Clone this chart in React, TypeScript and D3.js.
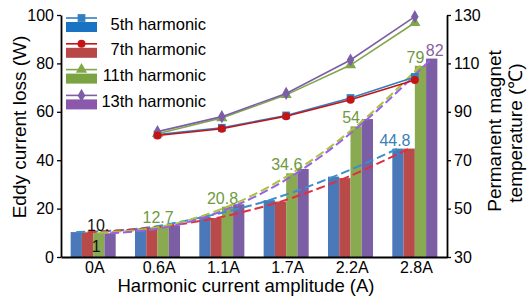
import React, { useEffect, useRef } from "react";
import * as d3 from "d3";

const categories = ["0A", "0.6A", "1.1A", "1.7A", "2.2A", "2.8A"];
const seriesNames = ["5th harmonic", "7th harmonic", "11th harmonic", "13th harmonic"];

// eddy current loss (W), bars
const loss5th = [10.3, 11.8, 16.7, 23.5, 33.2, 44.8];
const loss7th = [10.2, 12.1, 16.1, 22.9, 32.6, 44.8];
const loss11th = [10.0, 12.7, 20.8, 34.6, 54, 79];
const loss13th = [9.8, 13.0, 21.8, 36.4, 57, 82];

// magnet temperature (°C), lines (no value at 0A)
const temp5th = [null, 80.6, 83.4, 88.5, 95.7, 104.4];
const temp7th = [null, 80.2, 83.0, 88.2, 95.0, 103.1];
const temp11th = [null, 80.9, 87.4, 97.0, 109.3, 126.8];
const temp13th = [null, 81.8, 88.0, 97.6, 111.4, 129.3];

const lossTicks = [0, 20, 40, 60, 80, 100];
const tempTicks = [30, 50, 70, 90, 110, 130];

// data labels: [category, series index, text]
const barLabels: [string, number, string][] = [
  ["0.6A", 2, "12.7"],
  ["1.1A", 2, "20.8"],
  ["1.7A", 2, "34.6"],
  ["2.2A", 2, "54"],
  ["2.8A", 2, "79"],
  ["2.8A", 3, "82"],
  ["2.8A", 0, "44.8"],
];

const barColors = ["#4a78b8", "#b84a49", "#8aaa52", "#7b5ea4"];
const patchColors = ["#1a72c2", "#b84747", "#7aa442", "#8c58ab"];
const lineColors = ["#2f7fc1", "#c41416", "#80a84a", "#7c5ea6"];
const dashColors = ["#3a90c8", "#e0303e", "#a8c43a", "#9a62e0"];
const labelColors = ["#3b7fb5", "#b84a49", "#6e9a40", "#8a5ea2"];
const markers = [d3.symbolSquare, d3.symbolCircle, d3.symbolTriangle, d3.symbolDiamond];
const markerSizes = [60, 50, 55, 50];

const FONT = "'Liberation Sans', Arial, sans-serif";

export default function App() {
  const ref = useRef<SVGSVGElement>(null);

  useEffect(() => {
    const svg = d3.select(ref.current);
    svg.selectAll("*").remove();

    const left = 61, right = 447, top = 15, bottom = 257;
    const losses = [loss5th, loss7th, loss11th, loss13th];
    const temps = [temp5th, temp7th, temp11th, temp13th];

    const x = d3.scaleBand().domain(categories).range([left, right]).paddingInner(0.3).paddingOuter(0.15);
    const xs = d3.scaleBand().domain(seriesNames).range([0, x.bandwidth()]);
    const y = d3.scaleLinear().domain([0, 100]).range([bottom, top]);
    const yT = d3.scaleLinear().domain([30, 130]).range([bottom, top]);
    const barX = (c: string, i: number) => (x(c) as number) + (xs(seriesNames[i]) as number);
    const barMid = (c: string, i: number) => barX(c, i) + xs.bandwidth() / 2;

    // bars
    losses.forEach((vals, i) => {
      svg.append("g").selectAll("rect").data(vals).enter().append("rect")
        .attr("x", (d, j) => barX(categories[j], i))
        .attr("y", (d) => y(d))
        .attr("width", xs.bandwidth())
        .attr("height", (d) => bottom - y(d))
        .attr("fill", barColors[i]);
    });

    // dashed trend curves
    losses.forEach((vals, i) => {
      const line = d3.line<number>()
        .x((d, j) => barMid(categories[j], i))
        .y((d) => y(d))
        .curve(d3.curveMonotoneX);
      svg.append("path").attr("d", line(vals))
        .attr("fill", "none").attr("stroke", dashColors[i])
        .attr("stroke-width", 2).attr("stroke-dasharray", "9,4");
    });

    // temperature lines, drawn 5th under 7th so red sits on top
    const order = [0, 2, 3, 1];
    order.forEach((i) => {
      const pts = temps[i].map((v, j) => ({ c: categories[j], v })).filter((p) => p.v != null) as { c: string; v: number }[];
      const line = d3.line<{ c: string; v: number }>()
        .x((p) => (x(p.c) as number) + x.bandwidth() / 2)
        .y((p) => yT(p.v));
      svg.append("path").attr("d", line(pts))
        .attr("fill", "none").attr("stroke", lineColors[i]).attr("stroke-width", 1.6);
      svg.append("g").selectAll("path").data(pts).enter().append("path")
        .attr("d", d3.symbol().type(markers[i]).size(markerSizes[i])())
        .attr("transform", (p) => `translate(${(x(p.c) as number) + x.bandwidth() / 2},${yT(p.v)})`)
        .attr("fill", lineColors[i]);
    });

    // data labels
    barLabels.forEach(([c, i, t]) => {
      const v = losses[i][categories.indexOf(c)];
      const dx = i === 2 ? -5 : i === 0 ? -3 : 3;
      svg.append("text")
        .attr("x", barMid(c, i) + dx).attr("y", y(v) - 3)
        .attr("text-anchor", "middle").attr("fill", labelColors[i])
        .style("font", `16px ${FONT}`).text(t);
    });
    // the overlapping "10.1" label at 0A
    const c0 = (x("0A") as number) + x.bandwidth() / 2;
    svg.append("text").attr("x", c0 + 5).attr("y", 231).attr("text-anchor", "middle")
      .style("font", `16px ${FONT}`).attr("fill", "#111").text("10.");
    svg.append("text").attr("x", c0 + 3).attr("y", 252).attr("text-anchor", "middle")
      .style("font", `16px ${FONT}`).attr("fill", "#111").text("1");

    // axes
    const axL = svg.append("g").attr("transform", `translate(${left},0)`)
      .call(d3.axisLeft(y).tickValues(lossTicks).tickSize(4).tickSizeOuter(0));
    const axR = svg.append("g").attr("transform", `translate(${right},0)`)
      .call(d3.axisRight(yT).tickValues(tempTicks).tickSize(4).tickSizeOuter(0));
    const axB = svg.append("g").attr("transform", `translate(0,${bottom})`)
      .call(d3.axisBottom(x).tickSize(0).tickSizeOuter(0).tickPadding(5));
    [axL, axR, axB].forEach((ax) => {
      ax.select(".domain").attr("stroke", "#000").attr("stroke-width", 1.8);
      ax.selectAll("line").attr("stroke", "#000").attr("stroke-width", 1.3);
      ax.selectAll("text").style("font", `16px ${FONT}`).attr("fill", "#000");
    });
    axB.selectAll("text").attr("dx", "0.1em");

    // axis titles
    svg.append("text").attr("x", 246).attr("y", 292).attr("text-anchor", "middle")
      .style("font", `18.5px ${FONT}`).text("Harmonic current amplitude (A)");
    svg.append("text").attr("transform", "translate(26,127) rotate(-90)").attr("text-anchor", "middle")
      .style("font", `19px ${FONT}`).text("Eddy current loss (W)");
    svg.append("text").attr("transform", "translate(501,131) rotate(-90)").attr("text-anchor", "middle")
      .style("font", `19px ${FONT}`).text("Permanent magnet");
    svg.append("text").attr("transform", "translate(522,133) rotate(-90)").attr("text-anchor", "middle")
      .style("font", `19px ${FONT}`).text("temperature (\u2103)");

    // legend
    seriesNames.forEach((name, i) => {
      const ly = 18 + i * 25.8;
      const g = svg.append("g");
      g.append("rect").attr("x", 66).attr("y", ly + 4).attr("width", 31).attr("height", 10).attr("fill", patchColors[i]);
      g.append("line").attr("x1", 66).attr("x2", 97).attr("y1", ly).attr("y2", ly)
        .attr("stroke", lineColors[i]).attr("stroke-width", 1.6);
      g.append("path").attr("d", d3.symbol().type(markers[i]).size(markerSizes[i])())
        .attr("transform", `translate(81.5,${ly})`).attr("fill", lineColors[i]);
      g.append("text").attr("x", 206).attr("y", ly + 11.5).attr("text-anchor", "end")
        .style("font", `16.5px ${FONT}`).attr("fill", "#000").text(name);
    });
  }, []);

  return (
    <svg ref={ref} width={528} height={298}
      style={{ position: "absolute", left: 0, top: 0, background: "#fff" }} />
  );
}
